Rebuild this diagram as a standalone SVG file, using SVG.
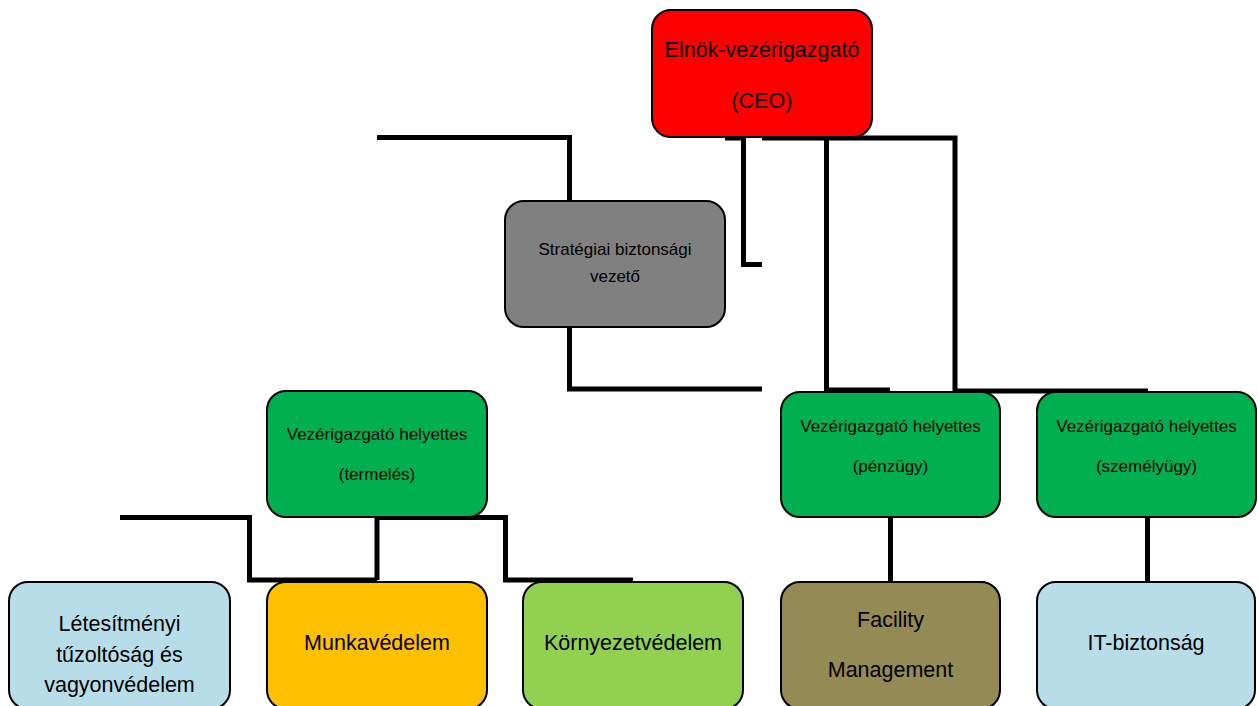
<svg xmlns="http://www.w3.org/2000/svg" width="1258" height="706" viewBox="0 0 1258 706">
<style>
.box{stroke:#000;stroke-width:2}
.c{fill:none;stroke:#000;stroke-width:5;stroke-linejoin:miter;stroke-linecap:butt}
text{font-family:"Liberation Sans",Arial,sans-serif;fill:#000;text-anchor:middle}
.big{font-size:21.5px}
.sm{font-size:17px}
</style>
<rect width="1258" height="706" fill="#fff"/>
<g id="connectors">
<path class="c" d="M377 137.5 H569.5 V201"/>
<path class="c" d="M569.5 327 V389 H762"/>
<path class="c" d="M725 138 H743.5 V264.5 H762"/>
<path class="c" d="M762 138 H955 V391 H1148"/>
<path class="c" d="M826.5 139 V390 H890"/>
<path class="c" d="M120 517.5 H249.5 V580 H377"/>
<path class="c" d="M377 517 V580"/>
<path class="c" d="M377 517.5 H505.5 V580 H633"/>
<path class="c" d="M890.5 517 V582"/>
<path class="c" d="M1147.5 517 V582"/>
</g>
<g id="ceo">
<rect class="box" x="652" y="10" width="220" height="127" rx="19" fill="#FF0000"/>
<text class="big" x="762" y="57">Elnök-vezérigazgató</text>
<text class="big" x="762" y="108">(CEO)</text>
</g>
<g id="strategic">
<rect class="box" x="505" y="201" width="220" height="126" rx="19" fill="#808080"/>
<text class="sm" x="615" y="255">Stratégiai biztonsági</text>
<text class="sm" x="615" y="282">vezető</text>
</g>
<g id="termeles">
<rect class="box" x="267" y="391" width="220" height="126" rx="19" fill="#00B050"/>
<text class="sm" x="377" y="440">Vezérigazgató helyettes</text>
<text class="sm" x="377" y="480">(termelés)</text>
</g>
<g id="penzugy">
<rect class="box" x="781" y="392" width="219" height="125" rx="19" fill="#00B050"/>
<text class="sm" x="890.5" y="432">Vezérigazgató helyettes</text>
<text class="sm" x="890.5" y="472">(pénzügy)</text>
</g>
<g id="szemelyugy">
<rect class="box" x="1037" y="392" width="219" height="125" rx="19" fill="#00B050"/>
<text class="sm" x="1146.5" y="432">Vezérigazgató helyettes</text>
<text class="sm" x="1146.5" y="472">(személyügy)</text>
</g>
<g id="letesitmenyi">
<rect class="box" x="9" y="582" width="221" height="127" rx="19" fill="#B7DEE8"/>
<text class="big" x="119.5" y="631">Létesítményi</text>
<text class="big" x="119.5" y="662">tűzoltóság és</text>
<text class="big" x="119.5" y="692">vagyonvédelem</text>
</g>
<g id="munkavedelem">
<rect class="box" x="267" y="582" width="220" height="127" rx="19" fill="#FFC000"/>
<text class="big" x="377" y="650">Munkavédelem</text>
</g>
<g id="kornyezetvedelem">
<rect class="box" x="523" y="582" width="220" height="127" rx="19" fill="#92D050"/>
<text class="big" x="633" y="650">Környezetvédelem</text>
</g>
<g id="facility">
<rect class="box" x="781" y="582" width="219" height="127" rx="19" fill="#948A54"/>
<text class="big" x="890.5" y="627">Facility</text>
<text class="big" x="890.5" y="677">Management</text>
</g>
<g id="itbiztonsag">
<rect class="box" x="1037" y="582" width="218" height="127" rx="19" fill="#B7DEE8"/>
<text class="big" x="1146" y="650">IT-biztonság</text>
</g>
</svg>
